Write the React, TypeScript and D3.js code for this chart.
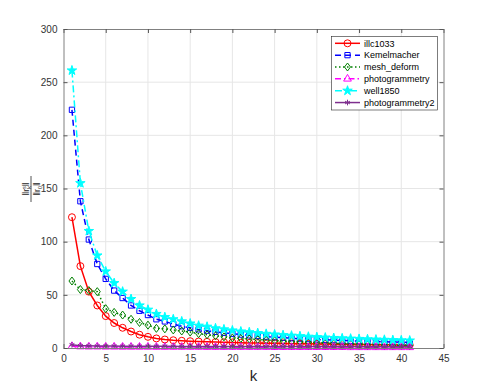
import React, { useEffect, useRef } from 'react';
import * as d3 from 'd3';

const kValues = d3.range(1, 42);
const xTicks = [0, 5, 10, 15, 20, 25, 30, 35, 40, 45];
const yTicks = [0, 50, 100, 150, 200, 250, 300];

const illc1033 = [123, 77, 53, 40, 30, 23.5, 19, 15.5, 12.5, 10.5, 9, 8, 7.3, 6.8, 6.4, 6.1, 5.8, 5.6, 5.4, 5.2, 5.0, 4.8, 4.7, 4.5, 4.4, 4.3, 4.1, 4.0, 3.9, 3.8, 3.7, 3.6, 3.5, 3.4, 3.3, 3.2, 3.1, 3.0, 3.0, 2.9, 2.8];
const kemelmacher = [224, 138, 102, 79, 65, 54, 47, 40, 35, 31, 27, 25, 22.5, 20.5, 19, 17.5, 16.3, 15.2, 14.3, 13.4, 12.6, 11.9, 11.3, 10.7, 10.2, 9.7, 9.2, 8.8, 8.4, 8.0, 7.7, 7.4, 7.1, 6.8, 6.5, 6.3, 6.0, 5.8, 5.6, 5.4, 5.2];
const meshDeform = [63, 55, 54, 53, 37, 33.5, 31, 27, 24, 21.5, 18.5, 18, 17, 16, 15, 13.5, 12.5, 11.5, 10.5, 9.5, 9, 8.5, 8, 7.5, 7, 6.5, 6.2, 5.8, 5.4, 5.0, 4.7, 4.4, 4.1, 3.8, 3.6, 3.4, 3.2, 3.0, 2.8, 2.6, 2.4];
const photogrammetry = [1.6, 1.3, 1.2, 1.2, 1.1, 1.1, 1.0, 1.0, 1.0, 1.0, 0.9, 0.9, 0.9, 0.9, 0.9, 0.9, 0.8, 0.8, 0.8, 0.8, 0.8, 0.8, 0.8, 0.8, 0.7, 0.7, 0.7, 0.7, 0.7, 0.7, 0.7, 0.7, 0.7, 0.6, 0.6, 0.6, 0.6, 0.6, 0.6, 0.6, 0.6];
const well1850 = [261, 155, 110, 87, 72, 61, 53, 46, 40, 36, 32, 29, 27, 25, 23, 21, 20, 18.5, 17.5, 16.5, 15.5, 14.8, 14, 13.3, 12.7, 12.1, 11.6, 11.1, 10.6, 10.2, 9.8, 9.4, 9.1, 8.8, 8.5, 8.2, 7.9, 7.7, 7.4, 7.2, 7.0];
const photogrammetry2 = [3.0, 2.2, 2.0, 1.9, 1.8, 1.8, 1.7, 1.7, 1.7, 1.6, 1.6, 1.6, 1.6, 1.5, 1.5, 1.5, 1.5, 1.5, 1.5, 1.4, 1.4, 1.4, 1.4, 1.4, 1.4, 1.4, 1.3, 1.3, 1.3, 1.3, 1.3, 1.3, 1.3, 1.3, 1.2, 1.2, 1.2, 1.2, 1.2, 1.2, 1.2];

const seriesNames = ['illc1033', 'Kemelmacher', 'mesh_deform', 'photogrammetry', 'well1850', 'photogrammetry2'];
const seriesValues = [illc1033, kemelmacher, meshDeform, photogrammetry, well1850, photogrammetry2];
const seriesColors = ['#ff0000', '#0000ff', '#008000', '#ff00ff', '#00ffff', '#7e2f8e'];
const seriesDash = ['none', '6,4', '1.5,2.5', '6,3,1.5,3', '7,3,2,3', 'none'];
const seriesMarker = ['circle', 'square', 'diamond', 'triangle', 'star', 'asterisk'];

const width = 491;
const height = 392;
const marginTop = 29;
const marginLeft = 63.5;
const plotRight = 443.5;
const plotBottom = 348;

const diamond = (s: number) => `M0,${-s}L${s * 0.75},0L0,${s}L${-s * 0.75},0Z`;

function markerPath(type: string) {
  if (type === 'circle') return d3.symbol(d3.symbolCircle, 38)();
  if (type === 'square') return d3.symbol(d3.symbolSquare, 28)();
  if (type === 'diamond') return diamond(4);
  if (type === 'triangle') return d3.symbol(d3.symbolTriangle, 26)();
  if (type === 'star') return d3.symbol(d3.symbolStar, 28)();
  return d3.symbol(d3.symbolAsterisk, 22)();
}

const App = () => {
  const svgRef = useRef<SVGSVGElement>(null);

  useEffect(() => {
    const x = d3.scaleLinear().domain([0, 45]).range([marginLeft, plotRight]);
    const y = d3.scaleLinear().domain([0, 300]).range([plotBottom, marginTop]);

    const svg = d3.select(svgRef.current);
    svg.selectAll('*').remove();

    const font = 'Liberation Sans, Arial, sans-serif';

    // grid
    const grid = svg.append('g').attr('stroke', '#e6e6e6').attr('stroke-width', 1);
    grid.selectAll('.gx').data(xTicks.slice(1, -1)).enter().append('line')
      .attr('x1', d => x(d)).attr('x2', d => x(d))
      .attr('y1', marginTop).attr('y2', plotBottom);
    grid.selectAll('.gy').data(yTicks.slice(1, -1)).enter().append('line')
      .attr('x1', marginLeft).attr('x2', plotRight)
      .attr('y1', d => y(d)).attr('y2', d => y(d));

    // series
    seriesValues.forEach((vals, si) => {
      const line = d3.line<number>()
        .x((d, i) => x(kValues[i]))
        .y(d => y(d));
      const g = svg.append('g');
      g.append('path')
        .datum(vals)
        .attr('fill', 'none')
        .attr('stroke', seriesColors[si])
        .attr('stroke-width', 1.5)
        .attr('stroke-dasharray', seriesDash[si])
        .attr('d', line);
      const filled = seriesMarker[si] === 'star';
      g.selectAll('path.m').data(vals).enter().append('path')
        .attr('class', 'm')
        .attr('transform', (d, i) => `translate(${x(kValues[i])},${y(d)})`)
        .attr('d', markerPath(seriesMarker[si]))
        .attr('fill', filled ? seriesColors[si] : 'none')
        .attr('stroke', seriesColors[si])
        .attr('stroke-width', 1);
    });

    // axes
    const axisColor = '#808080';
    const styleAxis = (g: any) => {
      g.select('.domain').attr('stroke', axisColor);
      g.selectAll('.tick line').attr('stroke', '#555');
      g.selectAll('.tick text').attr('fill', '#333').attr('font-size', 10).attr('font-family', font);
    };

    svg.append('g')
      .attr('transform', `translate(0,${plotBottom})`)
      .call(d3.axisBottom(x).tickValues(xTicks).tickSize(-4).tickSizeOuter(0).tickPadding(7))
      .call(styleAxis);
    svg.append('g')
      .attr('transform', `translate(0,${marginTop})`)
      .call(d3.axisTop(x).tickValues(xTicks).tickSize(-4).tickSizeOuter(0).tickFormat(() => ''))
      .call(styleAxis);
    svg.append('g')
      .attr('transform', `translate(${marginLeft},0)`)
      .call(d3.axisLeft(y).tickValues(yTicks).tickSize(-4).tickSizeOuter(0).tickPadding(6))
      .call(styleAxis);
    svg.append('g')
      .attr('transform', `translate(${plotRight},0)`)
      .call(d3.axisRight(y).tickValues(yTicks).tickSize(-4).tickSizeOuter(0).tickFormat(() => ''))
      .call(styleAxis);

    // x label
    svg.append('text')
      .attr('x', (marginLeft + plotRight) / 2)
      .attr('y', 381)
      .attr('text-anchor', 'middle')
      .attr('font-family', font)
      .attr('font-size', 15)
      .attr('fill', '#262626')
      .text('k');

    // y label (fraction, rotated)
    const yl = svg.append('g')
      .attr('transform', 'translate(31,189) rotate(-90)')
      .attr('font-family', font)
      .attr('fill', '#262626');
    yl.append('line').attr('x1', -13).attr('x2', 13).attr('y1', 0).attr('y2', 0)
      .attr('stroke', '#262626').attr('stroke-width', 0.8);
    const num = yl.append('text').attr('x', 0).attr('y', -2).attr('text-anchor', 'middle').attr('font-size', 9);
    num.append('tspan').text('‖r');
    num.append('tspan').attr('font-size', 5.5).attr('dy', 2).text('k');
    num.append('tspan').attr('font-size', 5.5).attr('dx', -3).attr('dy', -5).text('s');
    num.append('tspan').attr('dy', 3).text('‖');
    const den = yl.append('text').attr('x', 0).attr('y', 9).attr('text-anchor', 'middle').attr('font-size', 9);
    den.append('tspan').text('‖r');
    den.append('tspan').attr('font-size', 5.5).attr('dy', 2).text('0');
    den.append('tspan').attr('dy', -2).text('‖');

    // legend
    const lg = svg.append('g');
    lg.append('rect')
      .attr('x', 331.5).attr('y', 36.5).attr('width', 106).attr('height', 73.5)
      .attr('fill', '#fff').attr('stroke', '#262626').attr('stroke-width', 0.6);
    seriesNames.forEach((name, si) => {
      const ly = 43.3 + si * 11.85;
      lg.append('line')
        .attr('x1', 335).attr('x2', 360).attr('y1', ly).attr('y2', ly)
        .attr('stroke', seriesColors[si]).attr('stroke-width', 1.5)
        .attr('stroke-dasharray', seriesDash[si]);
      lg.append('path')
        .attr('transform', `translate(347.5,${ly})`)
        .attr('d', markerPath(seriesMarker[si]))
        .attr('fill', seriesMarker[si] === 'star' ? seriesColors[si] : 'none')
        .attr('stroke', seriesColors[si]).attr('stroke-width', 1);
      lg.append('text')
        .attr('x', 364).attr('y', ly + 3.2)
        .attr('font-family', font).attr('font-size', 9)
        .attr('fill', '#000')
        .text(name);
    });
  }, []);

  return (
    <svg ref={svgRef} width={width} height={height}
      style={{ position: 'absolute', left: 0, top: 0, background: '#fff' }} />
  );
};

export default App;
